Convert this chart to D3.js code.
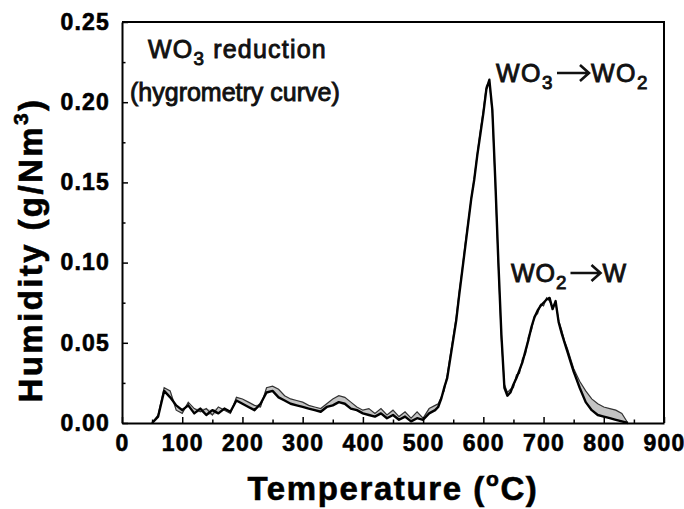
<!DOCTYPE html>
<html>
<head>
<meta charset="utf-8">
<script src="https://cdn.jsdelivr.net/npm/d3@7"></script>
<style>
  html, body { margin: 0; padding: 0; background: #fff; }
  svg { display: block; font-family: "Liberation Sans", Arial, sans-serif; }
</style>
</head>
<body>
<div id="chart"></div>
<script>
// temperature (°C) sampling points
const temps = [
  50, 60, 70, 80, 90, 100, 110, 120, 130, 140, 150, 160, 170, 180, 190, 200,
  210, 220, 230, 240, 250, 260, 270, 280, 290, 300, 310, 320, 330, 340, 350, 360,
  370, 380, 390, 400, 410, 420, 430, 440, 450, 460, 470, 480, 490, 500, 510, 520,
  525, 530, 535, 540, 545, 550, 555, 560, 565, 570, 575, 580, 585, 590, 595, 600,
  605, 610, 615, 620, 625, 630, 635, 640, 645, 650, 655, 660, 665, 670, 675, 680,
  685, 690, 695, 700, 705, 710, 715, 720, 725, 730, 735, 740, 745, 750, 755, 760,
  770, 780, 790, 800, 810, 820, 830, 840
];

// humidity, black curve (g/Nm3)
const humidityA = [
  0.000, 0.004, 0.020, 0.016, 0.011, 0.008, 0.011, 0.006, 0.009, 0.005, 0.008, 0.006, 0.009, 0.007, 0.014, 0.012,
  0.010, 0.008, 0.012, 0.019, 0.020, 0.016, 0.014, 0.012, 0.011, 0.010, 0.009, 0.008, 0.007, 0.010, 0.011, 0.013,
  0.012, 0.009, 0.008, 0.006, 0.005, 0.004, 0.006, 0.003, 0.005, 0.002, 0.004, 0.001, 0.003, 0.002, 0.006, 0.008,
  0.010, 0.015, 0.022, 0.028, 0.040, 0.052, 0.064, 0.080, 0.095, 0.110, 0.125, 0.140, 0.152, 0.167, 0.180, 0.193,
  0.208, 0.214, 0.195, 0.150, 0.100, 0.055, 0.022, 0.017, 0.019, 0.024, 0.028, 0.033, 0.038, 0.045, 0.052, 0.060,
  0.066, 0.070, 0.073, 0.075, 0.077, 0.078, 0.071, 0.076, 0.063, 0.056, 0.050, 0.044, 0.038, 0.032, 0.027, 0.022,
  0.013, 0.008, 0.005, 0.004, 0.003, 0.002, 0.001, 0.000
];

// humidity, grey curve (g/Nm3)
const humidityB = [
  0.000, 0.005, 0.022, 0.020, 0.008, 0.006, 0.013, 0.009, 0.007, 0.009, 0.005, 0.010, 0.008, 0.006, 0.016, 0.015,
  0.013, 0.011, 0.010, 0.022, 0.023, 0.021, 0.017, 0.015, 0.014, 0.013, 0.011, 0.010, 0.009, 0.012, 0.015, 0.017,
  0.016, 0.013, 0.010, 0.008, 0.009, 0.006, 0.009, 0.005, 0.008, 0.004, 0.007, 0.003, 0.007, 0.003, 0.009, 0.011,
  0.012, 0.016, 0.020, 0.030, 0.042, 0.054, 0.066, 0.082, 0.096, 0.112, 0.126, 0.140, 0.153, 0.168, 0.182, 0.195,
  0.210, 0.213, 0.193, 0.148, 0.098, 0.052, 0.024, 0.019, 0.021, 0.022, 0.030, 0.031, 0.040, 0.043, 0.054, 0.058,
  0.067, 0.068, 0.074, 0.073, 0.078, 0.076, 0.072, 0.075, 0.064, 0.058, 0.051, 0.046, 0.040, 0.034, 0.030, 0.026,
  0.020, 0.015, 0.012, 0.010, 0.009, 0.008, 0.006, 0.000
];

const xTicks = [0, 100, 200, 300, 400, 500, 600, 700, 800, 900];
const yTicks = [0.00, 0.05, 0.10, 0.15, 0.20, 0.25];

const W = 684, H = 509;
const m = { left: 122, right: 20, top: 22, bottom: 86 };

const svg = d3.select("#chart").append("svg")
  .attr("width", W)
  .attr("height", H);

const x = d3.scaleLinear().domain([0, 900]).range([m.left, W - m.right]);
const y = d3.scaleLinear().domain([0, 0.25]).range([H - m.bottom, m.top]);

const rows = temps.map((t, i) => ({ t, a: humidityA[i], b: humidityB[i] }));

// stippled band between the two curves
svg.append("path")
  .datum(rows)
  .attr("fill", "#c4c4c4")
  .attr("d", d3.area()
    .x(d => x(d.t))
    .y0(d => y(Math.min(d.a, d.b)))
    .y1(d => y(Math.max(d.a, d.b))));

svg.append("path")
  .datum(rows)
  .attr("fill", "none")
  .attr("stroke", "#333")
  .attr("stroke-width", 1.2)
  .attr("d", d3.line().x(d => x(d.t)).y(d => y(d.b)));

svg.append("path")
  .datum(rows)
  .attr("fill", "none")
  .attr("stroke", "#000")
  .attr("stroke-width", 2.4)
  .attr("stroke-linejoin", "round")
  .attr("d", d3.line().x(d => x(d.t)).y(d => y(d.a)));

// axes with inward ticks
svg.append("g")
  .attr("transform", `translate(0,${y(0)})`)
  .call(d3.axisBottom(x).tickValues(xTicks).tickSizeInner(-6).tickSizeOuter(0).tickPadding(12));
svg.append("g")
  .attr("transform", `translate(0,${y(0)})`)
  .call(d3.axisBottom(x).tickValues(d3.range(50, 900, 100)).tickSize(-3.5).tickFormat(""))
  .select(".domain").remove();

svg.append("g")
  .attr("transform", `translate(${x(0)},0)`)
  .call(d3.axisLeft(y).tickValues(yTicks).tickSizeInner(-6).tickSizeOuter(0).tickPadding(12)
    .tickFormat(d3.format(".2f")));
svg.append("g")
  .attr("transform", `translate(${x(0)},0)`)
  .call(d3.axisLeft(y).tickValues([0.025, 0.075, 0.125, 0.175, 0.225]).tickSize(-3.5).tickFormat(""))
  .select(".domain").remove();

svg.selectAll(".domain").attr("stroke-width", 2);
svg.selectAll(".tick line").attr("stroke-width", 1.5);
svg.selectAll(".tick text")
  .attr("font-size", 23)
  .attr("font-weight", "bold")
  .attr("letter-spacing", 1.2)
  .attr("stroke", "#000")
  .attr("stroke-width", 0.6)
  .attr("font-family", "Liberation Sans, Arial, sans-serif")
  .attr("fill", "#000");

// top and right frame
svg.append("path")
  .attr("d", `M${x(0)},${y(0.25)}H${x(900)}V${y(0)}`)
  .attr("fill", "none")
  .attr("stroke", "#000")
  .attr("stroke-width", 2);

// axis titles
const xt = svg.append("text")
  .attr("x", 393)
  .attr("y", 500)
  .attr("text-anchor", "middle")
  .attr("font-size", 33)
  .attr("font-weight", "bold")
  .attr("letter-spacing", 1.6)
  .attr("stroke", "#000")
  .attr("stroke-width", 0.6);
xt.append("tspan").text("Temperature (");
xt.append("tspan").attr("dy", -14).attr("font-size", 21).text("o");
xt.append("tspan").attr("dy", 14).text("C)");

const yt = svg.append("text")
  .attr("transform", `translate(42,250) rotate(-90)`)
  .attr("text-anchor", "middle")
  .attr("font-size", 33)
  .attr("font-weight", "bold")
  .attr("letter-spacing", 2.4)
  .attr("stroke", "#000")
  .attr("stroke-width", 0.6);
yt.append("tspan").text("Humidity (g/Nm");
yt.append("tspan").attr("dy", -14).attr("font-size", 21).text("3");
yt.append("tspan").attr("dy", 14).text(")");

// annotations: text pieces with subscripts, and drawn open arrows
function chem(px, py, parts, size, spacing) {
  const t = svg.append("text").attr("x", px).attr("y", py)
    .attr("font-size", size).attr("fill", "#111")
    .attr("stroke", "#111").attr("stroke-width", 0.9)
    .attr("letter-spacing", spacing || 0);
  parts.forEach(p => {
    const s = t.append("tspan").text(p[0]);
    if (p[1] === "sub") s.attr("dy", 7).attr("font-size", size * 0.75);
    if (p[1] === "back") s.attr("dy", -7);
  });
  return t.node().getBBox().x + t.node().getBBox().width;
}
function arrow(x0, cy, len) {
  svg.append("path")
    .attr("d", `M${x0},${cy}H${x0 + len}M${x0 + len - 9},${cy - 8}L${x0 + len},${cy}L${x0 + len - 9},${cy + 8}`)
    .attr("fill", "none")
    .attr("stroke", "#111")
    .attr("stroke-width", 2.6);
}
chem(148, 58, [["WO"], ["3", "sub"], [" reduction", "back"]], 25, 1.2);
chem(130, 101, [["(hygrometry curve)"]], 25);

let e1 = chem(496, 82, [["WO"], ["3", "sub"]], 25, 1.5);
arrow(e1 + 3, 73, 32);
chem(e1 + 37, 82, [["WO"], ["2", "sub"]], 25, 1.5);

let e2 = chem(511, 282, [["WO"], ["2", "sub"]], 25, 1);
arrow(e2 + 3, 273, 30);
chem(e2 + 35, 282, [["W"]], 25);
</script>
</body>
</html>
